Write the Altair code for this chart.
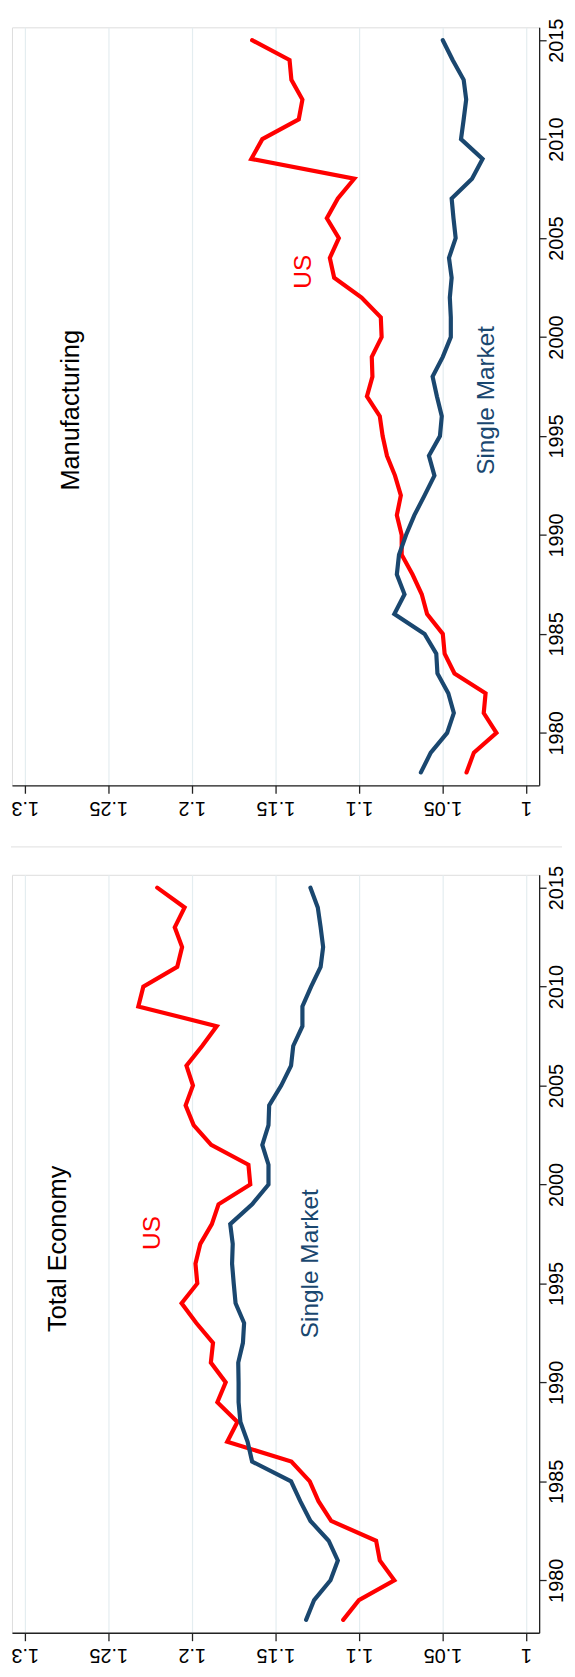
import altair as alt
import pandas as pd

years = list(range(1978, 2016))

# Manufacturing panel
mfg_us = [1.0356, 1.0312, 1.0177, 1.0253, 1.0242, 1.0428, 1.0487, 1.0498, 1.0592, 1.0624,
          1.0679, 1.0744, 1.0744, 1.0773, 1.0749, 1.0784, 1.0832, 1.0858, 1.0875, 1.0952,
          1.0919, 1.0923, 1.0864, 1.0869, 1.0984, 1.1148, 1.1174, 1.1120, 1.1192, 1.1126,
          1.1028, 1.1644, 1.1578, 1.1360, 1.1338, 1.1404, 1.1415, 1.1639]
mfg_sm = [1.0629, 1.0570, 1.0472, 1.0432, 1.0465, 1.0530, 1.0537, 1.0607, 1.0788, 1.0727,
          1.0773, 1.0760, 1.0718, 1.0668, 1.0607, 1.0548, 1.0581, 1.0515, 1.0504, 1.0533,
          1.0559, 1.0498, 1.0450, 1.0450, 1.0456, 1.0445, 1.0461, 1.0421, 1.0434, 1.0445,
          1.0323, 1.0260, 1.0389, 1.0373, 1.0358, 1.0373, 1.0439, 1.0498]

# Total Economy panel
tot_us = [1.1094, 1.1000, 1.0788, 1.0875, 1.0897, 1.1166, 1.1242, 1.1294, 1.1404, 1.1788,
          1.1727, 1.1847, 1.1797, 1.1886, 1.1873, 1.1973, 1.2061, 1.1967, 1.1978, 1.1949,
          1.1880, 1.1840, 1.1650, 1.1661, 1.1884, 1.1989, 1.2037, 1.1993, 1.2032, 1.1938,
          1.1851, 1.2320, 1.2290, 1.2087, 1.2058, 1.2102, 1.2043, 1.2207]
tot_sm = [1.1316, 1.1268, 1.1170, 1.1126, 1.1181, 1.1290, 1.1351, 1.1406, 1.1639, 1.1666,
          1.1709, 1.1720, 1.1720, 1.1722, 1.1694, 1.1687, 1.1738, 1.1749, 1.1759, 1.1755,
          1.1770, 1.1639, 1.1541, 1.1541, 1.1578, 1.1541, 1.1537, 1.1465, 1.1406, 1.1393,
          1.1338, 1.1338, 1.1286, 1.1229, 1.1214, 1.1229, 1.1246, 1.1290]

series_names = ["US", "Single Market"]
series_colors = ["#FF0000", "#1A476F"]

value_ticks = [1, 1.05, 1.1, 1.15, 1.2, 1.25, 1.3]
year_ticks = [1980, 1985, 1990, 1995, 2000, 2005, 2010, 2015]

# annotation text (label, value, year, color, font size)
mfg_text = ["Manufacturing", "US", "Single Market"]
mfg_text_value = [1.2720, 1.1331, 1.0236]
mfg_text_year = [1996.3, 2003.3, 1996.8]
tot_text = ["Total Economy", "US", "Single Market"]
tot_text_value = [1.2800, 1.2233, 1.1284]
tot_text_year = [1996.75, 1997.55, 1996.0]
text_colors = ["#000000", "#FF0000", "#1A476F"]
text_sizes = [25.5, 24.5, 24.5]

FONT = "Liberation Sans"
W, H = 530, 762

xscale = alt.Scale(domain=[0.99214, 1.3076], reverse=True, nice=False, zero=False)
yscale = alt.Scale(domain=[1977.35, 2015.65], nice=False, zero=False)
cscale = alt.Scale(domain=series_names, range=series_colors)

xaxis = alt.Axis(values=value_ticks, format="~g", title=None, labelAngle=180,
                 labelAlign="center", labelBaseline="bottom", labelPadding=4,
                 tickSize=8, grid=True, gridColor="#E4EDF0", gridWidth=1.2,
                 labelFontSize=20, labelFont=FONT, labelColor="#000000",
                 domainColor="#222222", tickColor="#222222", domainWidth=1.3, tickWidth=1.3)
yaxis = alt.Axis(values=year_ticks, format="d", title=None, orient="right", labelAngle=270,
                 labelAlign="center", labelBaseline="top", labelPadding=0,
                 tickSize=7, grid=False, labelFontSize=20, labelFont=FONT,
                 labelColor="#000000", domainColor="#222222", tickColor="#222222",
                 domainWidth=1.3, tickWidth=1.3)


def make_panel(us, sm, labels, lvals, lyears, separator=False):
    df = pd.DataFrame({
        "year": years + years,
        "value": us + sm,
        "series": ["US"] * len(years) + ["Single Market"] * len(years),
    })
    tdf = pd.DataFrame({"label": labels, "value": lvals, "year": lyears,
                        "col": text_colors, "fs": text_sizes})
    lines = alt.Chart(df).mark_line(strokeWidth=4.2, strokeCap="round").encode(
        x=alt.X("value:Q", scale=xscale, axis=xaxis),
        y=alt.Y("year:Q", scale=yscale, axis=yaxis),
        color=alt.Color("series:N", scale=cscale, legend=None),
        detail="series:N",
        order=alt.Order("year:Q"),
    )
    texts = alt.Chart(tdf).mark_text(angle=270, align="center", baseline="middle",
                                     font=FONT).encode(
        x=alt.X("value:Q", scale=xscale, axis=xaxis),
        y=alt.Y("year:Q", scale=yscale, axis=yaxis),
        text="label:N",
        color=alt.Color("col:N", scale=None),
        size=alt.Size("fs:Q", scale=None),
    )
    layers = [lines, texts]
    if separator:
        sep = alt.Chart(pd.DataFrame({"d": [0]})).mark_rule(color="#E6E6E6", strokeWidth=1.2).encode(
            x=alt.value(-1), x2=alt.value(553), y=alt.value(-28))
        layers.append(sep)
    return alt.layer(*layers).properties(width=W, height=H)


top = make_panel(mfg_us, mfg_sm, mfg_text, mfg_text_value, mfg_text_year)
bottom = make_panel(tot_us, tot_sm, tot_text, tot_text_value, tot_text_year, separator=True)

chart = alt.vconcat(top, bottom, spacing=27).properties(
    padding={"left": 1, "top": 5, "right": 0, "bottom": -1}
).configure_view(stroke=None).configure(background="#FFFFFF")

chart.save("out.html", embed_options={"renderer": "svg", "actions": False})
